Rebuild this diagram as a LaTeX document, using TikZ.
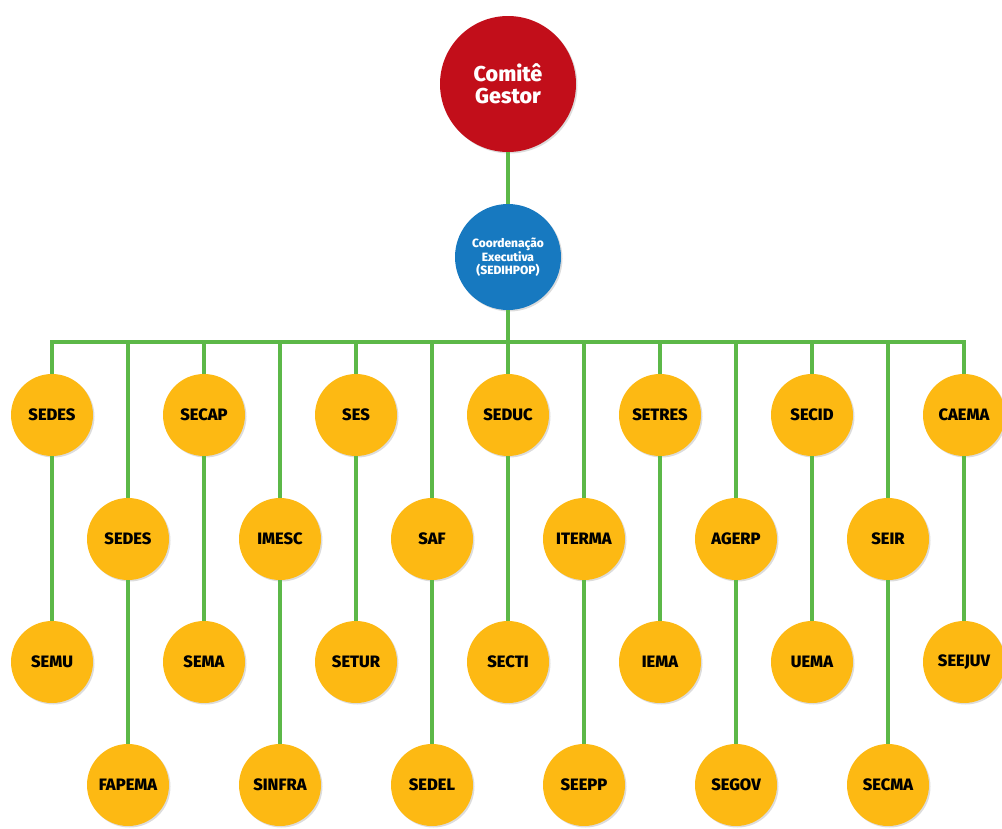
\documentclass[tikz,border=0pt]{standalone}
\usepackage{fontspec}
\setmainfont{Fira Sans}[BoldFont={Fira Sans ExtraBold}]
\usetikzlibrary{shadows}
\definecolor{lnk}{HTML}{5CB848}
\definecolor{org}{HTML}{FDB913}
\definecolor{rd}{HTML}{C20E1A}
\definecolor{bl}{HTML}{1779C0}
\tikzset{
  shad/.style={drop shadow={shadow xshift=1.5pt, shadow yshift=-1.5pt, fill=black!30, opacity=0.45}},
  orgnode/.style={circle, fill=org, minimum size=82pt, inner sep=0pt, shad,
    font=\bfseries\fontsize{16.5}{17}\selectfont, text=black},
  link/.style={draw=lnk, line width=3.5pt}
}
\begin{document}
\begin{tikzpicture}[x=1pt,y=-1pt]
\useasboundingbox (0,0) rectangle (1002,828);
\clip (0,0) rectangle (1002,828);
% top nodes
\node[circle, fill=rd, minimum size=136pt, inner sep=0pt, shad, text=white, align=center,
  font=\bfseries\fontsize{21.5}{22}\selectfont] (cg) at (508,84) {Comitê\\Gestor};
\node[circle, fill=bl, minimum size=106pt, inner sep=0pt, shad, text=white, align=center,
  font=\bfseries\fontsize{12}{13}\selectfont] (ce) at (508,257) {Coordenação\\Executiva\\(SEDIHPOP)};
% bus coordinates
\foreach \i in {0,...,12} {
  \coordinate (b\i) at ({52+76*\i},342);
}
% even columns
\foreach \t/\b [count=\k from 0] in {SEDES/SEMU, SECAP/SEMA, SES/SETUR, SEDUC/SECTI, SETRES/IEMA, SECID/UEMA, CAEMA/SEEJUV} {
  \node[orgnode] (t\k) at ({52+152*\k},415) {\t};
  \node[orgnode] (u\k) at ({52+152*\k},662) {\b};
}
% odd columns
\foreach \t/\b [count=\k from 0] in {SEDES/FAPEMA, IMESC/SINFRA, SAF/SEDEL, ITERMA/SEEPP, AGERP/SEGOV, SEIR/SECMA} {
  \node[orgnode] (m\k) at ({128+152*\k},539) {\t};
  \node[orgnode] (d\k) at ({128+152*\k},785) {\b};
}
% connectors
\draw[link] (cg) -- (ce);
\draw[link] (ce) -- (b6);
\draw[link, line cap=rect] (b0) -- (b12);
\foreach \k [evaluate=\k as \c using int(2*\k)] in {0,...,6} {
  \draw[link] (b\c) -- (t\k);
  \draw[link] (t\k) -- (u\k);
}
\foreach \k [evaluate=\k as \c using int(2*\k+1)] in {0,...,5} {
  \draw[link] (b\c) -- (m\k);
  \draw[link] (m\k) -- (d\k);
}
\end{tikzpicture}
\end{document}
